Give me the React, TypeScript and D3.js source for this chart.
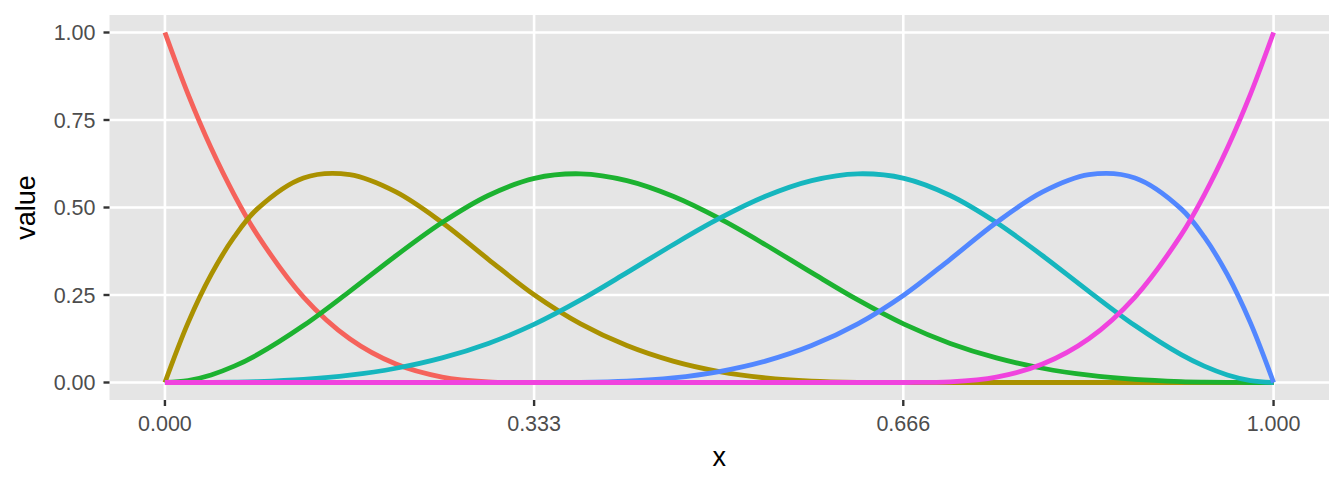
import React from "react";
import * as d3 from "d3";

// x positions (0 .. 1, steps of 1/24, with extra points 1/48, 3/48, 45/48, 47/48 near the ends)
const xs: number[] = [
  0, 1 / 48, 1 / 24, 3 / 48, 2 / 24, 3 / 24, 4 / 24, 5 / 24, 6 / 24, 7 / 24, 8 / 24, 9 / 24, 10 / 24, 11 / 24, 12 / 24,
  13 / 24, 14 / 24, 15 / 24, 16 / 24, 17 / 24, 18 / 24, 19 / 24, 20 / 24, 21 / 24, 22 / 24, 45 / 48, 23 / 24, 47 / 48, 1,
];

const series1: number[] = [1, 0.823975, 0.669922, 0.536377, 0.421875, 0.244141, 0.125, 0.052734, 0.015625, 0.001953, 0, 0, 0, 0, 0, 0, 0, 0, 0, 0, 0, 0, 0, 0, 0, 0, 0, 0, 0];
const series2: number[] = [0, 0.170349, 0.308105, 0.415833, 0.496094, 0.584473, 0.59375, 0.544434, 0.457031, 0.352051, 0.25, 0.16748, 0.105469, 0.061035, 0.03125, 0.013184, 0.003906, 0.000488, 0, 0, 0, 0, 0, 0, 0, 0, 0, 0, 0];
const series3: number[] = [0, 0.005636, 0.021647, 0.046692, 0.079427, 0.162598, 0.260417, 0.362142, 0.457031, 0.534342, 0.583333, 0.596191, 0.576823, 0.532064, 0.46875, 0.393717, 0.313802, 0.23584, 0.166667, 0.111654, 0.070313, 0.04069, 0.020833, 0.008789, 0.002604, 0.001099, 0.000326, 0.000041, 0];
const series4: number[] = [0, 0.000041, 0.000326, 0.001099, 0.002604, 0.008789, 0.020833, 0.04069, 0.070313, 0.111654, 0.166667, 0.23584, 0.313802, 0.393717, 0.46875, 0.532064, 0.576823, 0.596191, 0.583333, 0.534342, 0.457031, 0.362142, 0.260417, 0.162598, 0.079427, 0.046692, 0.021647, 0.005636, 0];
const series5: number[] = [0, 0, 0, 0, 0, 0, 0, 0, 0, 0, 0, 0.000488, 0.003906, 0.013184, 0.03125, 0.061035, 0.105469, 0.16748, 0.25, 0.352051, 0.457031, 0.544434, 0.59375, 0.584473, 0.496094, 0.415833, 0.308105, 0.170349, 0];
const series6: number[] = [0, 0, 0, 0, 0, 0, 0, 0, 0, 0, 0, 0, 0, 0, 0, 0, 0, 0, 0, 0.001953, 0.015625, 0.052734, 0.125, 0.244141, 0.421875, 0.536377, 0.669922, 0.823975, 1];

const seriesList: number[][] = [series1, series2, series3, series4, series5, series6];
const colors: string[] = ["#F5625B", "#AA9100", "#1CB230", "#16B6BE", "#5287FF", "#F043DE"];

const xTicks: number[] = [0, 0.333, 0.666, 1];
const xTickLabels: string[] = ["0.000", "0.333", "0.666", "1.000"];
const yTicks: number[] = [0, 0.25, 0.5, 0.75, 1];
const yTickLabels: string[] = ["0.00", "0.25", "0.50", "0.75", "1.00"];

const W = 1344;
const H = 480;
const panel = { left: 109.5, right: 1329, top: 15, bottom: 400 };

export default function App() {
  const x = d3.scaleLinear().domain([-0.05, 1.05]).range([panel.left, panel.right]);
  const y = d3.scaleLinear().domain([-0.05, 1.05]).range([panel.bottom, panel.top]);
  const line = d3
    .line<[number, number]>()
    .x((d) => x(d[0]))
    .y((d) => y(d[1]))
    .curve(d3.curveCatmullRom.alpha(0.5));

  const font = "'Liberation Sans', Arial, Helvetica, sans-serif";

  return (
    <svg
      width={W}
      height={H}
      style={{ position: "absolute", left: 0, top: 0, background: "#fff" }}
      fontFamily={font}
    >
      <rect x={panel.left} y={panel.top} width={panel.right - panel.left} height={panel.bottom - panel.top} fill="#E5E5E5" />
      {yTicks.map((t) => (
        <line key={"gy" + t} x1={panel.left} x2={panel.right} y1={y(t)} y2={y(t)} stroke="#fff" strokeWidth={2.6} />
      ))}
      {xTicks.map((t) => (
        <line key={"gx" + t} x1={x(t)} x2={x(t)} y1={panel.top} y2={panel.bottom} stroke="#fff" strokeWidth={2.6} />
      ))}
      {seriesList.map((s, i) => (
        <path
          key={"s" + i}
          d={line(xs.map((xv, j) => [xv, s[j]] as [number, number])) || ""}
          fill="none"
          stroke={colors[i]}
          strokeWidth={4.8}
          strokeLinejoin="round"
        />
      ))}
      {yTicks.map((t, i) => (
        <g key={"ty" + t}>
          <line x1={panel.left - 6} x2={panel.left} y1={y(t)} y2={y(t)} stroke="#333" strokeWidth={2.4} />
          <text x={panel.left - 14} y={y(t)} dy="0.36em" textAnchor="end" fontSize={21.5} fill="#4D4D4D">
            {yTickLabels[i]}
          </text>
        </g>
      ))}
      {xTicks.map((t, i) => (
        <g key={"tx" + t}>
          <line x1={x(t)} x2={x(t)} y1={panel.bottom} y2={panel.bottom + 6} stroke="#333" strokeWidth={2.4} />
          <text x={x(t)} y={431} textAnchor="middle" fontSize={21.5} fill="#4D4D4D">
            {xTickLabels[i]}
          </text>
        </g>
      ))}
      <text x={(panel.left + panel.right) / 2} y={466} textAnchor="middle" fontSize={27} fill="#000">
        x
      </text>
      <text
        transform={`translate(35,${(panel.top + panel.bottom) / 2}) rotate(-90)`}
        textAnchor="middle"
        fontSize={27}
        fill="#000"
      >
        value
      </text>
    </svg>
  );
}
